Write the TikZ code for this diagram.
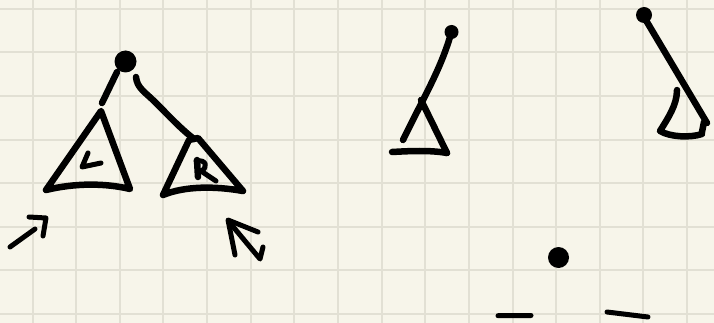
\documentclass[tikz,border=0pt]{standalone}
\definecolor{paper}{HTML}{F7F5EA}
\definecolor{gridc}{HTML}{E2E0D4}
\begin{document}
\begin{tikzpicture}[x=1pt,y=-1pt,
  ink/.style={line width=6.5pt, line cap=round, line join=round, black},
  thinink/.style={line width=5pt, line cap=round, line join=round, black},
  gridline/.style={gridc, line width=2pt}]
\useasboundingbox (0,0) rectangle (714,323);
\fill[paper] (0,0) rectangle (714,323);
% grid
\foreach \i in {0,...,15} \draw[gridline] ({32.6+43.63*\i},0) -- ({32.6+43.63*\i},323);
\foreach \j in {0,...,7} \draw[gridline] (0,{8.7+43.63*\j}) -- (714,{8.7+43.63*\j});

% ---- left tree ----
\coordinate (root) at (125.5,61.5);
\fill (root) circle (11pt);
\draw[ink] (117,72) -- (102,103);
\draw[ink] (136,77) .. controls (137,88) and (145,92) .. (155,102)
           .. controls (170,117) and (180,128) .. (194,139);
% L subtree
\draw[ink] (101,111) -- (46,190) .. controls (75,183) and (105,183) .. (130,189) -- cycle;
\draw[thinink] (88,153) -- (82,167) -- (101,163);
% R subtree
\draw[ink] (189,140) -- (163,195) .. controls (185,186) and (215,186) .. (243,191) -- (198,138) -- cycle;
\draw[ink] (197,160) -- (198,177);
\draw[thinink] (196,161) .. controls (207,159) and (208,168) .. (201,171) -- (216,181);
% arrows
\draw[thinink] (10,247) -- (35,229);
\draw[thinink] (29,217) -- (46,218) -- (43,236);
\draw[thinink] (235,255) -- (228,220) -- (258,232);
\draw[thinink] (230,223) -- (260,259) -- (263,247);

% ---- middle sketch ----
\coordinate (mtop) at (451.5,32);
\fill (mtop) circle (7pt);
\draw[ink] (450,37) .. controls (440,70) and (425,95) .. (403,140);
\draw[ink] (421,100) -- (447,153);
\draw[ink] (392,152) .. controls (410,151) and (430,150) .. (447,153);

% ---- right sketch ----
\coordinate (rtop) at (644,15);
\fill (rtop) circle (8pt);
\draw[ink] (644,17) -- (707,123);
\draw[ink] (704,122) -- (702,132);
\draw[ink] (677,90) .. controls (677,105) and (668,118) .. (660,131)
           .. controls (670,137) and (690,138) .. (702,134);

% ---- bottom sketch ----
\coordinate (bdot) at (558.5,257.5);
\fill (bdot) circle (10.5pt);
\draw[thinink] (498,315.7) -- (531,315.5);
\draw[thinink] (607,312) -- (648,317);
\end{tikzpicture}
\end{document}
